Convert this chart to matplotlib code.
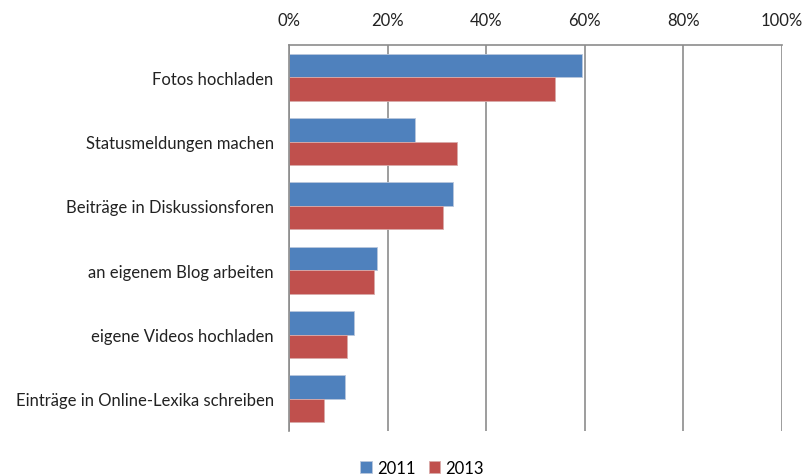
import numpy as np
import matplotlib.pyplot as plt
from matplotlib.ticker import PercentFormatter

plt.rcParams['font.family'] = ['Lato', 'DejaVu Sans']

# categories and shares (percent)
categories = ['Fotos hochladen', 'Statusmeldungen machen', 'Beiträge in Diskussionsforen',
              'an eigenem Blog arbeiten', 'eigene Videos hochladen', 'Einträge in Online-Lexika schreiben']
values_2011 = [59.4, 25.6, 33.3, 17.9, 13.1, 11.3]
values_2013 = [54.0, 34.0, 31.3, 17.2, 11.8, 7.2]

fig = plt.figure(figsize=(8.12, 4.77), dpi=100)
ax = fig.add_axes([289 / 812, 1 - 432 / 477, (782 - 289) / 812, (432 - 46) / 477])

y = np.arange(len(categories))
h = 0.365
ax.barh(y - h / 2, values_2011, height=h, color='#4F81BD', label='2011',
        edgecolor='#B8C7DC', linewidth=0.6)
ax.barh(y + h / 2, values_2013, height=h, color='#C0504D', label='2013',
        edgecolor='#D9AAA9', linewidth=0.6)

ax.set_xlim(0, 100)
ax.set_ylim(len(categories) - 0.5, -0.5)
ax.set_xticks(range(0, 101, 20))
ax.xaxis.set_major_formatter(PercentFormatter(decimals=0))
ax.xaxis.tick_top()
ax.tick_params(axis='x', length=0, pad=12, labelsize=12, colors='#222222')
ax.set_yticks(y)
ax.set_yticklabels(categories)
ax.tick_params(axis='y', length=0, pad=11, labelsize=12, colors='#222222')

ax.grid(axis='x', color='#8C8C8C', linewidth=1.2)
ax.set_axisbelow(True)
for side in ['right', 'bottom']:
    ax.spines[side].set_visible(False)
for side in ['top', 'left']:
    ax.spines[side].set_color('#8C8C8C')
    ax.spines[side].set_linewidth(1.2)

ax.legend(loc='center', bbox_to_anchor=(0.27, -0.095), ncol=2, frameon=False,
          fontsize=12, handlelength=0.7, handleheight=0.7, handletextpad=0.3,
          columnspacing=0.8)

fig.savefig('out.png', dpi=100)
